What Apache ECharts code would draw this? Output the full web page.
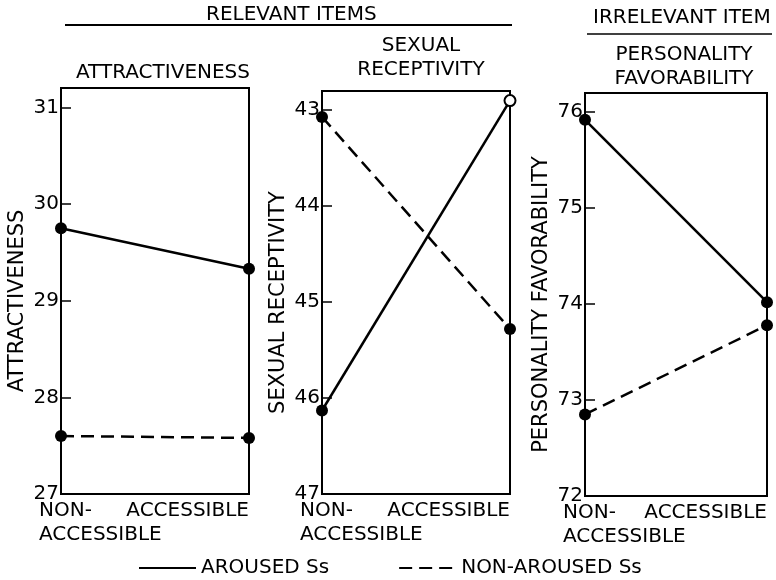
<!DOCTYPE html>
<html>
<head>
<meta charset="utf-8">
<script src="https://cdn.jsdelivr.net/npm/echarts@6/dist/echarts.min.js"></script>
<style>
  html, body { margin: 0; padding: 0; background: #fff; }
  #chart { width: 776px; height: 580px; }
</style>
</head>
<body>
<div id="chart"></div>
<script>
// categories on every x axis
const categories = ['NON-\nACCESSIBLE', 'ACCESSIBLE'];
const seriesNames = ['AROUSED Ss', 'NON-AROUSED Ss'];

// attractiveness
const attrAroused = [29.75, 29.33];
const attrNonAroused = [27.6, 27.58];
const attrTicks = [27, 28, 29, 30, 31];

// sexual receptivity (axis runs downward)
const recepAroused = [46.13, 42.9];
const recepNonAroused = [43.07, 45.28];
const recepTicks = [43, 44, 45, 46, 47];

// personality favorability
const favAroused = [75.92, 74.02];
const favNonAroused = [72.85, 73.78];
const favTicks = [72, 73, 74, 75, 76];

const font = 'DejaVu Sans';

let panels = [
  {left: 61, width: 188, top: 88, bottom: 86, name: 'ATTRACTIVENESS', ticks: attrTicks, min: 27, max: 31.2, inverse: false,
    aroused: attrAroused, non: attrNonAroused},
  {left: 322, width: 188, top: 91, bottom: 86, name: 'SEXUAL RECEPTIVITY', ticks: recepTicks, min: 42.8, max: 47, inverse: true,
    aroused: recepAroused, non: recepNonAroused},
  {left: 585, width: 182, top: 93, bottom: 84, name: 'PERSONALITY FAVORABILITY', ticks: favTicks, min: 72, max: 76.2, inverse: false,
    aroused: favAroused, non: favNonAroused}
];

let grids = [], xAxes = [], yAxes = [], series = [];
panels.forEach((p, i) => {
  grids.push({
    left: p.left, width: p.width, top: p.top, bottom: p.bottom,
    show: true, borderColor: '#000', borderWidth: 2, backgroundColor: 'transparent'
  });
  xAxes.push({
    type: 'category', gridIndex: i, data: categories, boundaryGap: false,
    axisLine: {lineStyle: {color: '#000', width: 2}},
    axisTick: {show: false},
    axisLabel: {
      interval: 0, color: '#000', fontFamily: font, fontSize: 20, margin: 5, lineHeight: 24,
      alignMinLabel: 'left', alignMaxLabel: 'right', padding: [0, 0, 0, -22]
    },
    splitLine: {show: false}
  });
  yAxes.push({
    type: 'value', gridIndex: i, min: p.min, max: p.max, inverse: p.inverse,
    name: p.name, nameLocation: 'middle', nameRotate: 90, nameGap: 33,
    nameTextStyle: {color: '#000', fontFamily: font, fontSize: 21, padding: [0, 20, 0, 0]},
    axisLine: {show: true, lineStyle: {color: '#000', width: 2}},
    axisTick: {show: true, inside: true, length: 10, customValues: p.ticks, lineStyle: {color: '#000', width: 1.5}},
    axisLabel: {color: '#000', fontFamily: font, fontSize: 20, margin: 2, customValues: p.ticks},
    splitLine: {show: false}
  });
  let aroused = p.aroused.map(v => v);
  if (i === 1) aroused = [p.aroused[0], {value: p.aroused[1], symbol: 'emptyCircle', symbolSize: 11}];
  series.push({
    name: seriesNames[0], type: 'line', xAxisIndex: i, yAxisIndex: i, data: aroused,
    symbol: 'circle', symbolSize: 12, color: '#000',
    lineStyle: {color: '#000', width: 2.5},
    itemStyle: {color: '#000'}, clip: false, animation: false
  });
  series.push({
    name: seriesNames[1], type: 'line', xAxisIndex: i, yAxisIndex: i, data: p.non,
    symbol: 'circle', symbolSize: 12, color: '#000',
    lineStyle: {color: '#000', width: 2.5, type: [13, 7]},
    itemStyle: {color: '#000'}, clip: false, animation: false
  });
});

let titleStyle = {color: '#000', fontFamily: font, fontSize: 20, fontWeight: 'normal', lineHeight: 24};
let option = {
  backgroundColor: '#fff',
  animation: false,
  title: [
    {text: 'RELEVANT ITEMS', left: 201, top: -2, textStyle: titleStyle},
    {text: 'IRRELEVANT ITEM', left: 588, top: 1, textStyle: titleStyle},
    {text: 'ATTRACTIVENESS', left: 158, top: 56, textAlign: 'center', textStyle: titleStyle},
    {text: 'SEXUAL\nRECEPTIVITY', left: 416, top: 29, textAlign: 'center', textStyle: titleStyle},
    {text: 'PERSONALITY\nFAVORABILITY', left: 679, top: 38, textAlign: 'center', textStyle: titleStyle}
  ],
  legend: {
    data: seriesNames, left: 133, top: 553, itemWidth: 57, itemHeight: 14, itemGap: 69,
    textStyle: {color: '#000', fontFamily: font, fontSize: 20},
    itemStyle: {opacity: 0}
  },
  graphic: [
    {type: 'line', shape: {x1: 65, y1: 25, x2: 512, y2: 25}, style: {stroke: '#000', lineWidth: 2}},
    {type: 'line', shape: {x1: 587, y1: 34, x2: 772, y2: 34}, style: {stroke: '#000', lineWidth: 1.5}}
  ],
  grid: grids,
  xAxis: xAxes,
  yAxis: yAxes,
  series: series
};

let myChart = echarts.init(document.getElementById('chart'));
myChart.setOption(option);
</script>
</body>
</html>
